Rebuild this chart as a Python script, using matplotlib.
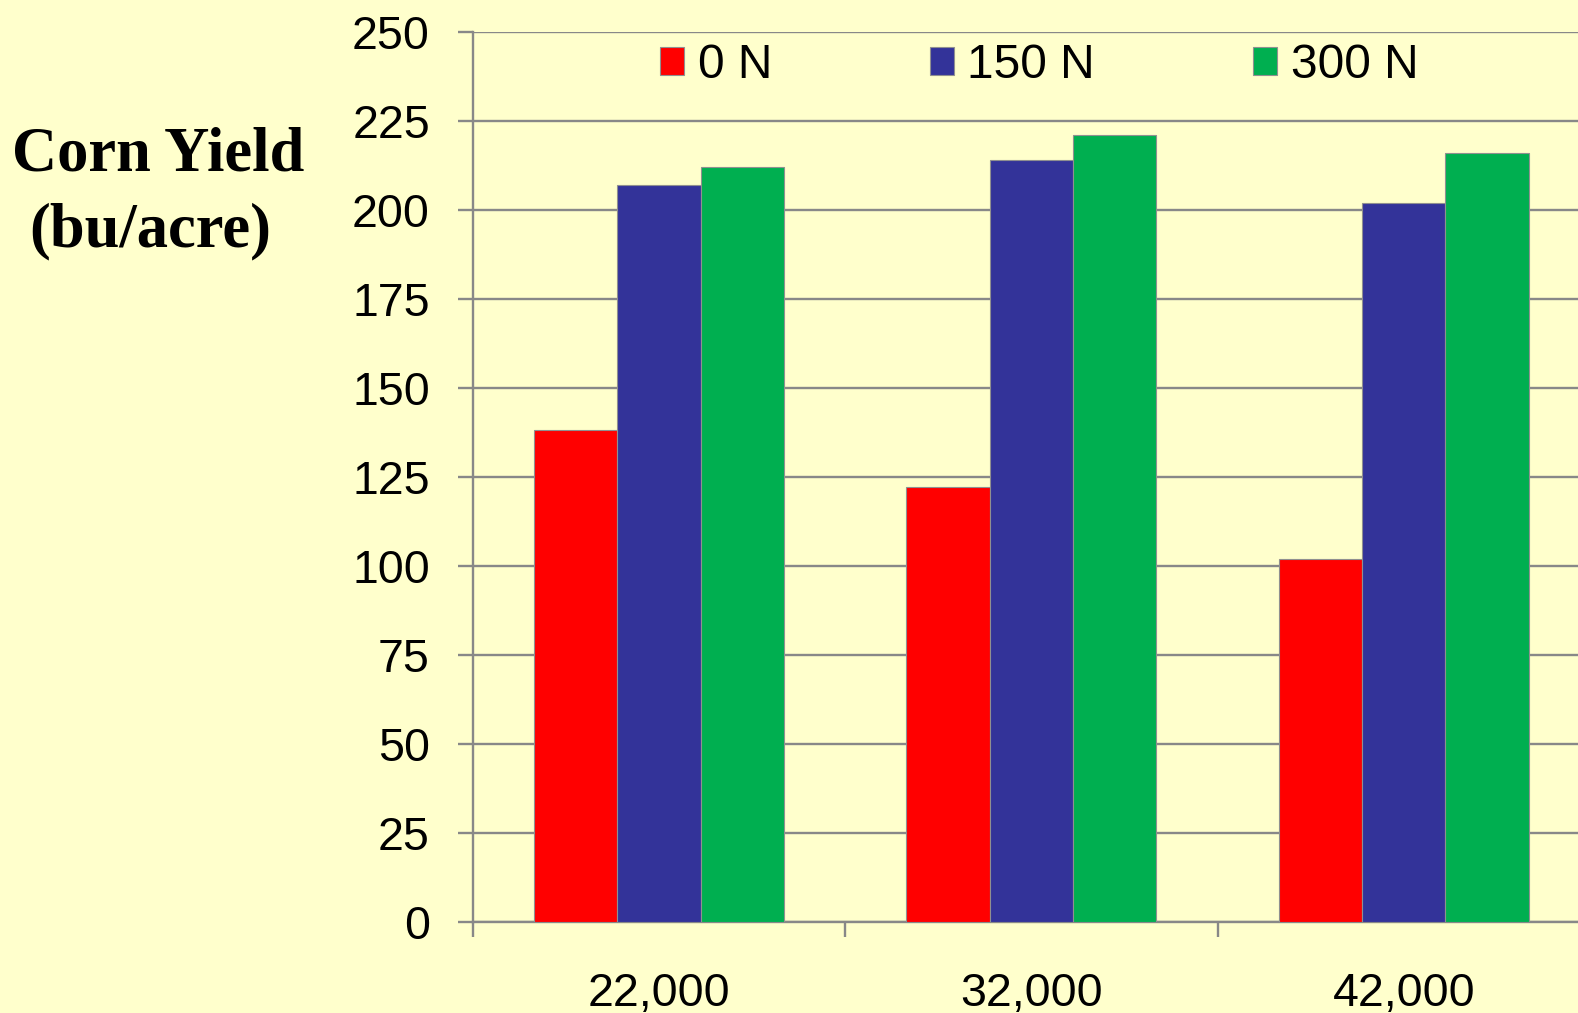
import numpy as np
import matplotlib
matplotlib.use('Agg')
import matplotlib.pyplot as plt

# corn yield by plant population and nitrogen rate
populations = ['22,000', '32,000', '42,000']
n_rates = ['0 N', '150 N', '300 N']
yield_0n = [138, 122, 102]
yield_150n = [207, 214, 202]
yield_300n = [212, 221, 216]
bar_colors = ['#FF0000', '#333399', '#00AF50']

bg = '#FFFFCC'
grey = '#888888'

plt.rcParams['font.family'] = ['Liberation Sans', 'DejaVu Sans']

W, H = 1578, 1013
fig = plt.figure(figsize=(W / 100, H / 100), dpi=100, facecolor=bg)

# axes box in pixels: left edge 472.7, right edge runs off the figure at 1590
ax_l, ax_r, ax_t, ax_b = 472.7, 1590.0, 32.0, 921.5
ax = fig.add_axes([ax_l / W, 1 - ax_b / H, (ax_r - ax_l) / W, (ax_b - ax_t) / H])
ax.set_facecolor(bg)

x = np.arange(len(populations))
w = 0.2235
series = [yield_0n, yield_150n, yield_300n]
for i, (vals, lab, col) in enumerate(zip(series, n_rates, bar_colors)):
    ax.bar(x + (i - 1) * w, vals, width=w, color=col, label=lab,
           edgecolor='#909090', linewidth=0.8, zorder=3)

ax.set_xlim(-0.5, 2.5)
ax.set_ylim(0, 250)
ax.set_yticks(np.arange(0, 251, 25))
ax.yaxis.grid(True, color=grey, linewidth=1.7, zorder=0)
ax.set_axisbelow(True)

for s in ['top', 'right']:
    ax.spines[s].set_visible(False)
for s in ['left', 'bottom']:
    ax.spines[s].set_color(grey)
    ax.spines[s].set_linewidth(1.7)

# category labels at centers, tick marks at the boundaries
ax.set_xticks(x)
ax.set_xticklabels(populations)
ax.set_xticks(np.arange(-0.5, 3.0, 1.0), minor=True)
ax.tick_params(axis='x', which='major', length=0, pad=36, labelsize=33.5)
ax.tick_params(axis='x', which='minor', length=10.8, width=1.7, color=grey, direction='out')
ax.tick_params(axis='y', length=10.8, width=1.7, color=grey, pad=20, labelsize=33.5)

ax.legend(loc='center', bbox_to_anchor=(0.507, 0.962), ncol=3, frameon=False,
          fontsize=34.5, handlelength=0.5, handleheight=0.52, handletextpad=0.28,
          columnspacing=3.3, borderaxespad=0)

# axis title set horizontally at the left
fig.text(158.5 / W, 1 - 170.7 / H, 'Corn Yield', ha='center', va='baseline',
         family='Liberation Serif', fontweight='bold', fontsize=45)
fig.text(150.5 / W, 1 - 246.7 / H, '(bu/acre)', ha='center', va='baseline',
         family='Liberation Serif', fontweight='bold', fontsize=45)

fig.savefig('out.png', dpi=100, facecolor=bg)
